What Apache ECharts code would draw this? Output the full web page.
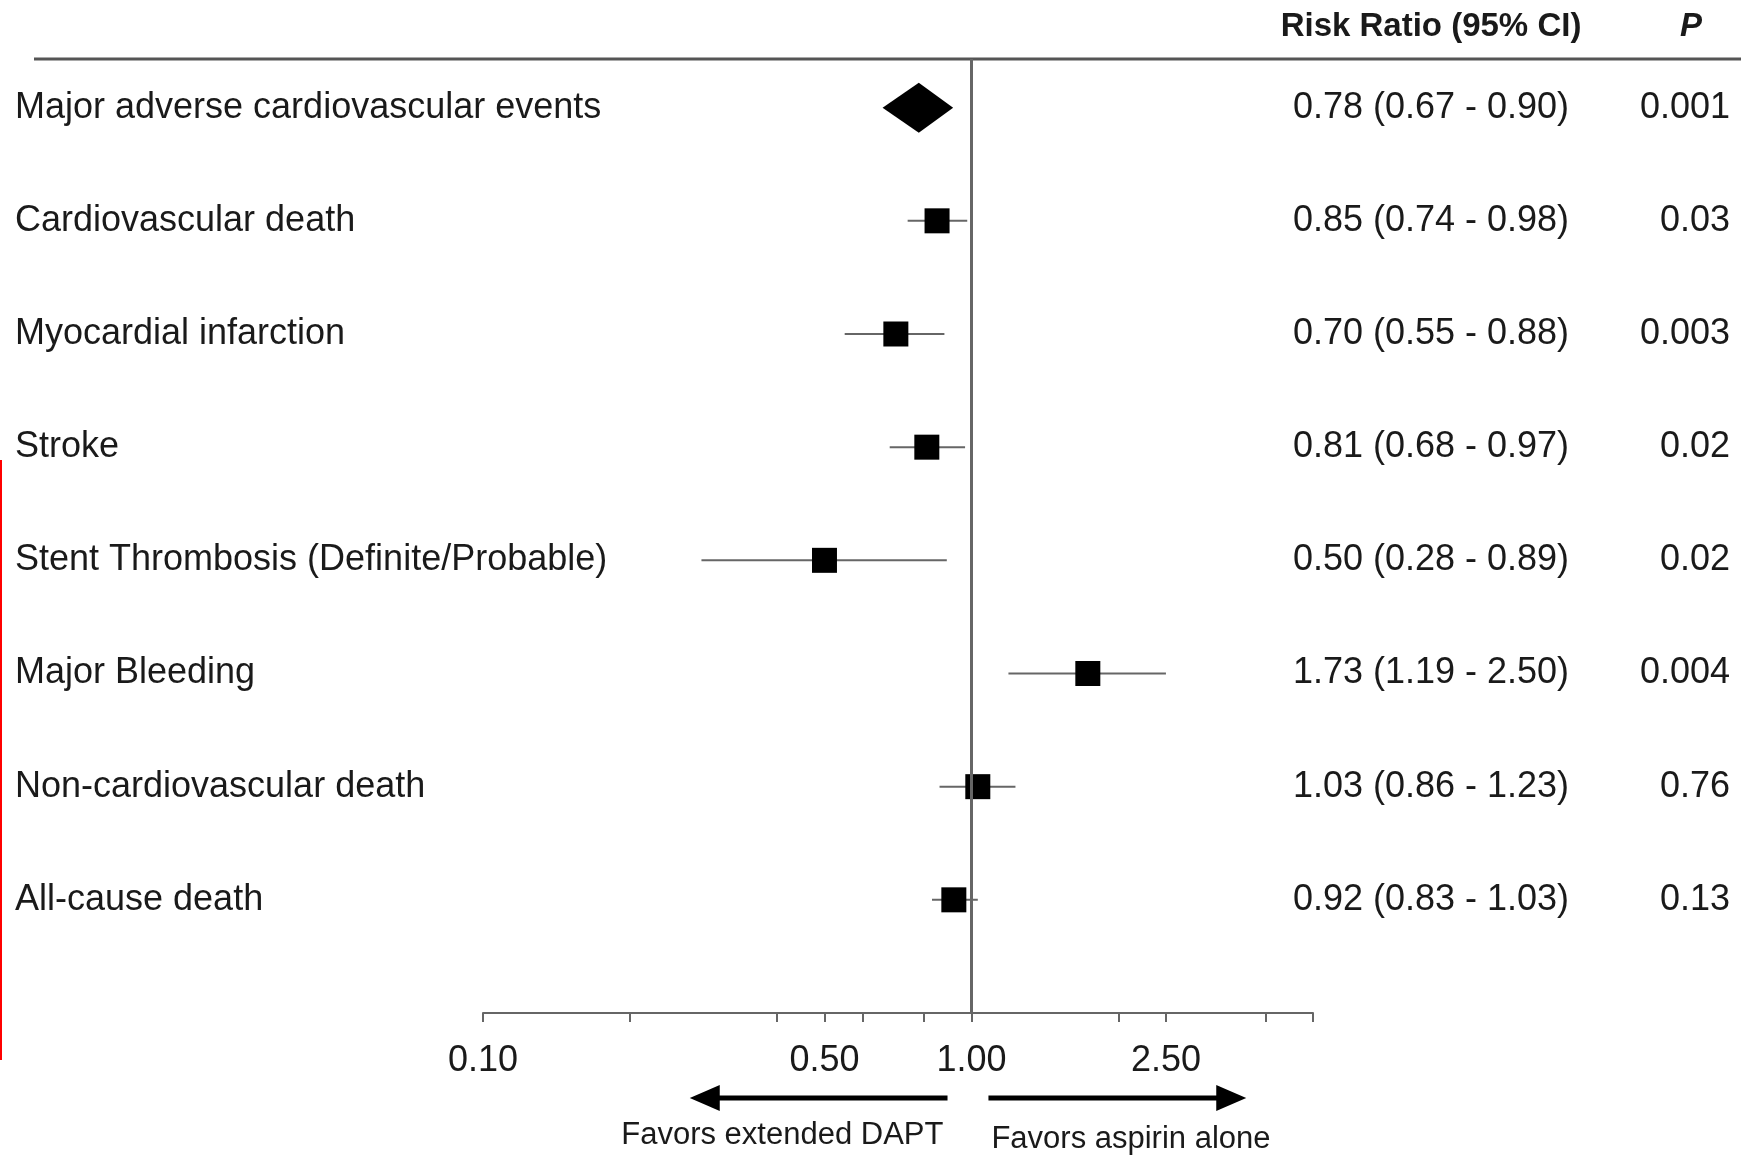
<!DOCTYPE html>
<html>
<head>
<meta charset="utf-8">
<title>Forest plot</title>
<script src="https://cdn.jsdelivr.net/npm/echarts@6.0.0/dist/echarts.min.js"></script>
<style>
  html, body { margin: 0; padding: 0; background: #fff; }
  #main { width: 1759px; height: 1157px; }
</style>
</head>
<body>
<div id="main"></div>
<script>
// outcomes, top to bottom
var outcomes = [
    'Major adverse cardiovascular events',
    'Cardiovascular death',
    'Myocardial infarction',
    'Stroke',
    'Stent Thrombosis (Definite/Probable)',
    'Major Bleeding',
    'Non-cardiovascular death',
    'All-cause death'
];
var riskRatio = [0.78, 0.85, 0.70, 0.81, 0.50, 1.73, 1.03, 0.92];
var ciLow = [0.67, 0.74, 0.55, 0.68, 0.28, 1.19, 0.86, 0.83];
var ciHigh = [0.90, 0.98, 0.88, 0.97, 0.89, 2.50, 1.23, 1.03];
var pValues = ['0.001', '0.03', '0.003', '0.02', '0.02', '0.004', '0.76', '0.13'];
var tickValues = [0.1, 0.2, 0.4, 0.5, 0.6, 0.8, 1, 2, 2.5, 4, 5]; // tick marks on the log axis
var tickLabels = [0.1, 0.5, 1, 2.5];                             // labelled ticks
var summaryRow = 0; // pooled outcome drawn as a diamond

var FONT = "'Liberation Sans', Arial, sans-serif";
var TEXT = '#1a1a1a';

var rows = outcomes.map(function (d, i) { return i; });
var ciData = [], squareData = [], diamondData = [];
rows.forEach(function (i) {
    if (i === summaryRow) {
        diamondData.push([ciLow[i], ciHigh[i], riskRatio[i], i]);
    } else {
        ciData.push([ciLow[i], ciHigh[i], i]);
        squareData.push([riskRatio[i], i]);
    }
});

function fmt(v) { return v.toFixed(2); }
function rrText(i) {
    return fmt(riskRatio[i]) + ' (' + fmt(ciLow[i]) + ' - ' + fmt(ciHigh[i]) + ')';
}
function rowIdx(v) { return Math.round(v); }

var chart = echarts.init(document.getElementById('main'), null, { renderer: 'canvas' });

// the three y axes share one scale: labels, risk ratio column, P column
function rowAxis(extra) {
    var ax = {
        type: 'value',
        min: -0.43,
        max: 8,
        inverse: true,
        offset: 0,
        axisLine: { show: false },
        axisTick: { show: false },
        splitLine: { show: false }
    };
    for (var k in extra) ax[k] = extra[k];
    return ax;
}

var option = {
    animation: false,
    backgroundColor: '#fff',
    grid: { left: 483, right: 446, top: 59, bottom: 144, containLabel: false, outerBoundsMode: 'none' },
    xAxis: {
        type: 'log',
        logBase: 10,
        min: 0.1,
        max: 5,
        axisLine: { onZero: false, lineStyle: { color: '#666', width: 2 } },
        axisTick: { customValues: tickValues, length: 9, lineStyle: { color: '#666', width: 2 } },
        axisLabel: {
            customValues: tickLabels,
            formatter: function (v) { return fmt(v); },
            margin: 30,
            fontSize: 36,
            fontFamily: FONT,
            color: TEXT
        },
        splitLine: { show: false },
        minorTick: { show: false }
    },
    yAxis: [
        rowAxis({
            position: 'left',
            axisLabel: {
                customValues: rows,
                formatter: function (v) { return outcomes[rowIdx(v)]; },
                align: 'left',
                margin: 468,
                fontSize: 36,
                fontFamily: FONT,
                color: TEXT
            }
        }),
        rowAxis({
            position: 'right',
            axisLabel: {
                customValues: rows,
                formatter: function (v) { return rrText(rowIdx(v)); },
                align: 'center',
                margin: 118,
                fontSize: 36,
                fontFamily: FONT,
                color: TEXT
            }
        }),
        rowAxis({
            position: 'right',
            axisLabel: {
                customValues: rows,
                formatter: function (v) { return pValues[rowIdx(v)]; },
                align: 'right',
                margin: 417,
                fontSize: 36,
                fontFamily: FONT,
                color: TEXT
            }
        })
    ],
    series: [
        {
            // confidence interval whiskers
            type: 'custom',
            name: 'ci',
            z: 2,
            encode: { x: [0, 1], y: 2 },
            data: ciData,
            renderItem: function (params, api) {
                var a = api.coord([api.value(0), api.value(2)]);
                var b = api.coord([api.value(1), api.value(2)]);
                return {
                    type: 'line',
                    shape: { x1: a[0], y1: a[1], x2: b[0], y2: b[1] },
                    style: { stroke: '#666', lineWidth: 2 }
                };
            }
        },
        {
            // pooled estimate diamond spanning its CI
            type: 'custom',
            name: 'summary',
            z: 3,
            encode: { x: [0, 1, 2], y: 3 },
            data: diamondData,
            renderItem: function (params, api) {
                var y = api.value(3);
                var lo = api.coord([api.value(0), y]);
                var hi = api.coord([api.value(1), y]);
                var mid = api.coord([api.value(2), y]);
                var h = 25;
                return {
                    type: 'polygon',
                    shape: { points: [[lo[0] - 4, lo[1]], [mid[0], mid[1] - h], [hi[0] + 4, hi[1]], [mid[0], mid[1] + h]] },
                    style: { fill: '#000' }
                };
            }
        },
        {
            type: 'scatter',
            name: 'rr',
            z: 4,
            symbol: 'rect',
            symbolSize: 25,
            itemStyle: { color: '#000', opacity: 1 },
            data: squareData,
            markLine: {
                silent: true,
                symbol: 'none',
                label: { show: false },
                lineStyle: { color: '#666', width: 3, type: 'solid' },
                data: [{ xAxis: 1 }]
            }
        }
    ]
};

chart.setOption(option);

// annotations: header, rule, direction arrows
function px(v) { return chart.convertToPixel({ xAxisIndex: 0 }, v); }

function arrow(from, to, y) {
    var x1 = px(from), x2 = px(to);
    var dir = x2 > x1 ? 1 : -1;
    var headLen = 30, headHalf = 13;
    return {
        type: 'group',
        children: [
            {
                type: 'line',
                shape: { x1: x1, y1: y, x2: x2 - dir * (headLen - 4), y2: y },
                style: { stroke: '#000', lineWidth: 5 }
            },
            {
                type: 'polygon',
                shape: { points: [[x2, y], [x2 - dir * headLen, y - headHalf], [x2 - dir * headLen, y + headHalf]] },
                style: { fill: '#000' }
            }
        ]
    };
}

var graphics = [
    { type: 'line', shape: { x1: 34, y1: 59, x2: 1741, y2: 59 }, style: { stroke: '#555', lineWidth: 3 } },
    {
        type: 'text', x: 1431, y: 27,
        style: { text: 'Risk Ratio (95% CI)', font: 'bold 33px ' + FONT, fill: TEXT, textAlign: 'center', textVerticalAlign: 'middle' }
    },
    {
        type: 'text', x: 1691, y: 27,
        style: { text: 'P', font: 'italic bold 33px ' + FONT, fill: TEXT, textAlign: 'center', textVerticalAlign: 'middle' }
    },
    arrow(0.893, 0.265, 1098),
    arrow(1.083, 3.65, 1098),
    {
        type: 'text', x: px(0.41), y: 1135,
        style: { text: 'Favors extended DAPT', font: '31px ' + FONT, fill: TEXT, textAlign: 'center', textVerticalAlign: 'middle' }
    },
    {
        type: 'text', x: px(2.12), y: 1139,
        style: { text: 'Favors aspirin alone', font: '31px ' + FONT, fill: TEXT, textAlign: 'center', textVerticalAlign: 'middle' }
    },
    { type: 'line', shape: { x1: 1, y1: 460, x2: 1, y2: 1060 }, style: { stroke: '#ff0000', lineWidth: 2 } }
];

chart.setOption({ graphic: graphics });
</script>
</body>
</html>
